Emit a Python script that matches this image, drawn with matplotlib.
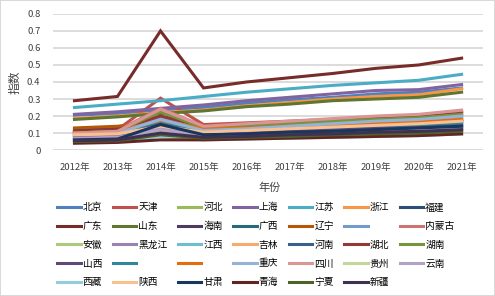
import numpy as np
import matplotlib
matplotlib.use('Agg')
import matplotlib.pyplot as plt

plt.rcParams['font.family'] = ['Noto Sans CJK SC', 'DejaVu Sans']

years = ['2012年', '2013年', '2014年', '2015年', '2016年', '2017年', '2018年', '2019年', '2020年', '2021年']

# province names in Excel series order (blank names kept as in the source chart)
names = ['北京', '天津', '河北', '上海', '江苏', '浙江', '福建',
         '广东', '山东', '海南', '广西', '辽宁', '', '内蒙古',
         '安徽', '黑龙江', '江西', '吉林', '河南', '湖北', '湖南',
         '山西', '', '', '重庆', '四川', '贵州', '云南',
         '西藏', '陕西', '甘肃', '青海', '宁夏', '新疆']

colors = ['#4F81BD', '#C0504D', '#9BBB59', '#8064A2', '#4BACC6', '#F79646', '#2C4D75',
          '#772C2A', '#5F7530', '#4D3B62', '#276A7C', '#B65708', '#729ACA', '#CD7371',
          '#AFC97A', '#9983B5', '#6FBDD1', '#F9AB6B', '#3A5F8B', '#953735', '#77933C',
          '#5F497A', '#31859C', '#E46C0A', '#95B3D7', '#D99694', '#C3D69B', '#B3A2C7',
          '#93CDDD', '#FAC090', '#17375E', '#632523', '#4F6228', '#3F3151']

values = [
    [0.205, 0.215, 0.235, 0.250, 0.275, 0.295, 0.310, 0.330, 0.340, 0.365],  # 北京
    [0.110, 0.120, 0.305, 0.150, 0.160, 0.170, 0.180, 0.190, 0.200, 0.225],  # 天津
    [0.090, 0.100, 0.220, 0.120, 0.130, 0.140, 0.150, 0.165, 0.175, 0.200],  # 河北
    [0.210, 0.225, 0.245, 0.265, 0.290, 0.310, 0.330, 0.350, 0.355, 0.385],  # 上海
    [0.250, 0.270, 0.290, 0.315, 0.340, 0.360, 0.380, 0.395, 0.410, 0.445],  # 江苏
    [0.185, 0.200, 0.220, 0.235, 0.260, 0.280, 0.300, 0.315, 0.325, 0.360],  # 浙江
    [0.120, 0.130, 0.160, 0.130, 0.135, 0.140, 0.145, 0.150, 0.155, 0.170],  # 福建
    [0.290, 0.315, 0.700, 0.365, 0.400, 0.425, 0.450, 0.480, 0.500, 0.540],  # 广东
    [0.180, 0.195, 0.215, 0.230, 0.255, 0.270, 0.290, 0.300, 0.310, 0.340],  # 山东
    [0.065, 0.070, 0.140, 0.090, 0.095, 0.100, 0.105, 0.115, 0.120, 0.130],  # 海南
    [0.080, 0.090, 0.170, 0.100, 0.110, 0.115, 0.125, 0.135, 0.140, 0.150],  # 广西
    [0.130, 0.140, 0.170, 0.140, 0.145, 0.150, 0.155, 0.160, 0.165, 0.180],  # 辽宁
    [0.100, 0.110, 0.190, 0.120, 0.130, 0.140, 0.150, 0.160, 0.170, 0.190],  # (blank)
    [0.105, 0.115, 0.245, 0.140, 0.150, 0.160, 0.175, 0.190, 0.200, 0.230],  # 内蒙古
    [0.070, 0.080, 0.120, 0.090, 0.095, 0.100, 0.105, 0.110, 0.115, 0.120],  # 安徽
    [0.080, 0.085, 0.130, 0.090, 0.100, 0.105, 0.115, 0.120, 0.130, 0.140],  # 黑龙江
    [0.060, 0.070, 0.100, 0.080, 0.085, 0.090, 0.100, 0.105, 0.110, 0.120],  # 江西
    [0.085, 0.090, 0.150, 0.110, 0.120, 0.130, 0.140, 0.150, 0.160, 0.180],  # 吉林
    [0.100, 0.105, 0.160, 0.120, 0.125, 0.135, 0.145, 0.150, 0.160, 0.170],  # 河南
    [0.110, 0.120, 0.200, 0.140, 0.150, 0.160, 0.175, 0.185, 0.195, 0.215],  # 湖北
    [0.100, 0.110, 0.225, 0.130, 0.140, 0.155, 0.170, 0.180, 0.190, 0.210],  # 湖南
    [0.075, 0.080, 0.150, 0.100, 0.105, 0.115, 0.125, 0.130, 0.140, 0.150],  # 山西
    [0.090, 0.100, 0.170, 0.110, 0.120, 0.130, 0.135, 0.145, 0.150, 0.160],  # (blank)
    [0.100, 0.110, 0.175, 0.125, 0.130, 0.140, 0.150, 0.160, 0.165, 0.180],  # (blank)
    [0.095, 0.100, 0.180, 0.115, 0.125, 0.140, 0.155, 0.170, 0.180, 0.200],  # 重庆
    [0.100, 0.110, 0.240, 0.140, 0.155, 0.170, 0.185, 0.200, 0.210, 0.235],  # 四川
    [0.065, 0.070, 0.110, 0.080, 0.085, 0.090, 0.095, 0.100, 0.105, 0.110],  # 贵州
    [0.070, 0.075, 0.120, 0.085, 0.090, 0.095, 0.105, 0.110, 0.120, 0.130],  # 云南
    [0.045, 0.050, 0.080, 0.060, 0.065, 0.070, 0.075, 0.080, 0.085, 0.095],  # 西藏
    [0.090, 0.095, 0.140, 0.105, 0.115, 0.125, 0.135, 0.145, 0.155, 0.170],  # 陕西
    [0.060, 0.065, 0.150, 0.090, 0.095, 0.105, 0.110, 0.120, 0.130, 0.140],  # 甘肃
    [0.040, 0.045, 0.060, 0.060, 0.065, 0.070, 0.075, 0.080, 0.085, 0.095],  # 青海
    [0.050, 0.055, 0.090, 0.070, 0.075, 0.080, 0.090, 0.095, 0.100, 0.110],  # 宁夏
    [0.055, 0.060, 0.100, 0.075, 0.080, 0.090, 0.095, 0.105, 0.110, 0.120],  # 新疆
]

fig = plt.figure(figsize=(4.95, 2.96), dpi=100, edgecolor='#D9D9D9', linewidth=1.2)
ax = fig.add_axes([0.107, 0.493, 0.869, 0.46])

x = np.arange(len(years))
lines = []
for name, col, vals in zip(names, colors, values):
    ln, = ax.plot(x, vals, color=col, lw=2.2, solid_joinstyle='miter', label=name if name else ' ')
    lines.append(ln)

ax.set_xlim(-0.5, len(years) - 0.5)
ax.set_ylim(0, 0.8)
ax.set_yticks(np.arange(0, 0.81, 0.1))
ax.set_yticklabels(['0'] + ['%.1f' % v for v in np.arange(0.1, 0.81, 0.1)])
ax.set_xticks(x)
ax.set_xticklabels(years)
ax.tick_params(axis='both', length=0, labelsize=6.8, colors='#404040')
ax.tick_params(axis='y', pad=9)
ax.tick_params(axis='x', pad=9)
ax.grid(axis='y', color='#D9D9D9', lw=1.3)
ax.set_axisbelow(True)
for s in ax.spines.values():
    s.set_visible(False)

ax.set_ylabel('指数', fontsize=8.5, color='#404040')
ax.yaxis.set_label_coords(-0.072, 0.5)
fig.text(0.545, 0.365, '年份', fontsize=8, color='#404040', ha='center', va='center')

# Excel fills the legend row by row; matplotlib fills column by column
ncol = 7
nrow = 5
order = []
for c in range(ncol):
    for r in range(nrow):
        i = r * ncol + c
        if i < len(lines):
            order.append(i)
fig.legend([lines[i] for i in order], [lines[i].get_label() for i in order],
           ncol=ncol, loc='upper left', bbox_to_anchor=(0.106, 0.333),
           frameon=False, fontsize=7, handlelength=2.4, handletextpad=0.2,
           columnspacing=1.1, labelspacing=0.9, borderpad=0)

fig.savefig('out.png', dpi=100)
